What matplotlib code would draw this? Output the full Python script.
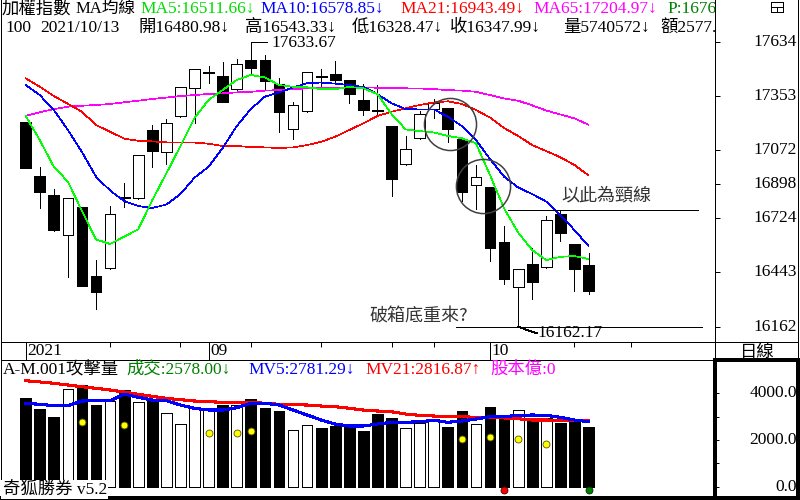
import matplotlib
matplotlib.use("Agg")
import matplotlib.pyplot as plt
import matplotlib.transforms as mtrans
from matplotlib.lines import Line2D
from matplotlib.patches import Rectangle
import numpy as np

# ---------------- data ----------------
opens = [17219, 16940, 16842, 16634, 16780, 16424, 16464, 16830, 16825, 17178,
         17066, 17248, 17393, 17471, 17456, 17388, 17539, 17539, 17414, 17181,
         17274, 17458, 17467, 17436, 17333, 17281, 17198, 17000, 17135, 17284,
         17291, 17131, 16892, 16883, 16599, 16365, 16484, 16469, 16744, 16589,
         16480.98]
highs = [17221, 16987, 16873, 16825, 16782, 16506, 16787, 16904, 17049, 17203,
         17234, 17400, 17493, 17508, 17527, 17543, 17633.67, 17565, 17448, 17324,
         17478, 17491, 17534, 17438, 17414, 17410, 17200, 17147, 17276, 17336,
         17293, 17133, 16997, 16885, 16682, 16460, 16567, 16734, 16765, 16591,
         16543.33]
lows = [16981, 16776, 16658, 16420, 16372, 16252, 16462, 16782, 16823, 16988,
        17004, 17246, 17212, 17422, 17322, 17386, 17465, 17388, 17169, 17130,
        17272, 17388, 17427, 17319, 17255, 17255, 16838, 16998, 17133, 17241,
        17117, 16811, 16771, 16503, 16381, 16162.17, 16303, 16467, 16606, 16348,
        16328.47]
closes = [16983, 16859, 16661, 16825, 16374, 16343, 16744, 16826, 17047, 17071,
          17214, 17398, 17491, 17475, 17324, 17517, 17499, 17432, 17272, 17305,
          17476, 17454, 17437, 17362, 17281, 17277, 16926, 17079, 17259, 17317,
          17185, 16859, 16935, 16570, 16410, 16458, 16394, 16711, 16644, 16462,
          16347.99]
ma5 = [17250, 17126, 16988, 16911, 16759, 16613, 16589, 16627, 16665, 16816,
       16954, 17095, 17240, 17333, 17384, 17436, 17462, 17449, 17410, 17401,
       17398, 17389, 17389, 17400, 17393, 17363, 17260, 17181, 17172, 17165,
       17147, 17135, 17109, 16945, 16773, 16648, 16558, 16506, 16523, 16527,
       16511.66]
ma10 = [17410, 17358, 17281, 17178, 17064, 16937, 16865, 16811, 16785, 16775,
        16793, 16847, 16932, 16988, 17085, 17198, 17286, 17350, 17371, 17397,
        17419, 17423, 17417, 17410, 17400, 17363, 17316, 17286, 17284, 17284,
        17247, 17198, 17126, 17028, 16937, 16881, 16847, 16808, 16739, 16661,
        16578.85]
ma21 = [17445, 17401, 17353, 17313, 17272, 17203, 17169, 17133, 17122, 17119,
        17114, 17114, 17113, 17107, 17095, 17095, 17090, 17088, 17085, 17088,
        17100, 17117, 17143, 17178, 17212, 17250, 17272, 17290, 17307, 17320,
        17326, 17312, 17281, 17242, 17188, 17147, 17100, 17069, 17037, 16997,
        16943.49]
ma65 = [17251, 17269, 17286, 17298, 17303, 17307, 17312, 17321, 17329, 17338,
        17345, 17353, 17358, 17364, 17367, 17372, 17375, 17381, 17384, 17388,
        17393, 17396, 17396, 17398, 17398, 17396, 17393, 17393, 17392, 17389,
        17384, 17381, 17375, 17358, 17341, 17329, 17305, 17278, 17258, 17238,
        17204.97]
volume = [3812, 3340, 2985, 4171, 4355, 3499, 3670, 4141, 3640, 3756,
          3143, 2672, 3358, 3358, 3499, 3499, 3756, 3370, 3242, 2428,
          2630, 2514, 2600, 2600, 2398, 3113, 2942, 2501, 2715, 2887,
          2544, 3242, 2672, 3413, 2998, 3285, 2899, 2929, 2741, 2814,
          2578]
mv5 = [3572, 3529, 3469, 3469, 3670, 3683, 3683, 3970, 3829, 3713,
       3683, 3499, 3358, 3285, 3285, 3383, 3572, 3572, 3499, 3285,
       3071, 2857, 2685, 2600, 2600, 2685, 2758, 2758, 2784, 2844,
       2758, 2814, 2899, 2998, 2998, 3058, 3071, 3058, 2972, 2857,
       2781.29]
mv21 = [4540, 4488, 4428, 4355, 4283, 4214, 4141, 4056, 3957, 3872,
        3786, 3726, 3670, 3640, 3615, 3615, 3615, 3572, 3529, 3512,
        3499, 3456, 3426, 3358, 3285, 3242, 3212, 3113, 3058, 3028,
        2998, 2998, 2972, 2950, 2945, 2912, 2857, 2857, 2827, 2827,
        2816.87]
signal_idx = [4, 7, 13, 15, 16, 31, 33, 35, 37]
signal_vol = [2784, 2642, 2313, 2313, 2399, 2056, 2141, 2056, 1842]
red_mark_idx, green_mark_idx, mark_level = [34], [40], -141

price_ticks = [16162, 16443, 16724, 16898, 17072, 17353, 17634]
price_tick_labels = ["16162", "16443", "16724", "16898", "17072", "17353", "17634"]
vol_ticks = [0, 2000, 4000]
vol_minor_ticks = [1000, 3000]
vol_tick_labels = ["0.0", "2000.0", "4000.0"]
month_tick_idx = [0, 13, 33]
month_tick_labels = ["2021", "09", "10"]
week_tick_idx = [6, 11, 16, 21, 26, 29, 39, 43]
period_high = 17633.67
period_low = 16162.17
neckline = 16766

# ---------------- layout helpers ----------------
W, H = 800, 500
plt.rcParams['lines.antialiased'] = False
plt.rcParams['patch.antialiased'] = False
fig = plt.figure(figsize=(8, 5), dpi=100)
fig.patch.set_facecolor('white')


def fx(xp):
    return xp / W


def fy(yp):
    return 1 - yp / H


FAM = ['Liberation Serif', 'Noto Sans CJK TC', 'DejaVu Sans']
CJK = ['Noto Sans CJK TC', 'DejaVu Sans']
FS = 12.5
PX = 0.72
MLW = 0.5

ax = fig.add_axes([fx(1), fy(342), 714 / W, 342 / H])
axv = fig.add_axes([fx(1), fy(498), 714 / W, 138 / H])

n = len(closes)
x = np.arange(n)
XMIN, XMAX = -1.755, 48.99
up = [c >= o for o, c in zip(opens, closes)]
fills = ['white' if u else 'black' for u in up]

# ---------------- price panel ----------------
ax.vlines(x, lows, highs, colors='black', lw=PX, zorder=2, antialiaseds=False)
bottoms = [min(o, c) for o, c in zip(opens, closes)]
heights = [max(abs(c - o), 3) for o, c in zip(opens, closes)]
ax.bar(x, heights, bottom=bottoms, width=0.76, color=fills, edgecolor='black',
       linewidth=PX, zorder=3)

ax.plot(x, ma65, color='#FF00FF', lw=MLW, zorder=4, antialiased=False)
ax.plot(x, ma21, color='#FF0000', lw=MLW, zorder=4, antialiased=False)
ax.plot(x, ma10, color='#0000FF', lw=MLW, zorder=4, antialiased=False)
ax.plot(x, ma5, color='#00FF00', lw=MLW, zorder=4, antialiased=False)

# annotations
ax.plot([30.13], [17209], marker='o', ms=37.5, mfc='none', mec='#404040',
        mew=1.1, ls='none', zorder=6, antialiased=True)
ax.plot([32.5], [16890], marker='o', ms=39.0, mfc='none', mec='#404040',
        mew=1.1, ls='none', zorder=6, antialiased=True)
ax.hlines(neckline, 34.3, 47.8, color='black', lw=PX, zorder=5)
ax.hlines(period_low, 30.6, 48.1, color='black', lw=PX, zorder=5)
ax.text(38.1, 16842, "以此為頸線", family=CJK, fontsize=13, color='#333333',
        ha='left', va='center', zorder=7)
ax.text(24.42, 16217, "破箱底重來?", family=CJK, fontsize=13, color='#333333',
        ha='left', va='center', zorder=7)

hi_i = int(np.argmax(highs))
lo_i = int(np.argmin(lows))
ax.plot([hi_i, hi_i + 1.15], [period_high, period_high], color='black', lw=PX, zorder=5)
ax.text(hi_i + 1.5, period_high - 8, f"{period_high:.2f}", family=FAM, fontsize=FS,
        ha='left', va='center', zorder=7)
ax.plot([lo_i, lo_i + 1.3], [period_low, 16128], color='black', lw=PX, zorder=5)
ax.text(lo_i + 1.35, 16130, f"{period_low:.2f}", family=FAM, fontsize=FS,
        ha='left', va='center', zorder=7)

ax.set_xlim(XMIN, XMAX)
ax.set_ylim(16083.2, 17849.0)
ax.spines['top'].set_visible(False)
for s in ['left', 'right', 'bottom']:
    ax.spines[s].set_linewidth(PX)
ax.yaxis.tick_right()
ax.set_yticks(price_ticks)
ax.tick_params(axis='y', which='both', direction='out', length=3.5, width=PX,
               labelright=False, labelleft=False)
ax.set_xticks(month_tick_idx)
ax.set_xticks(week_tick_idx, minor=True)
ax.tick_params(axis='x', which='major', direction='out', length=13, width=PX,
               labelbottom=False)
ax.tick_params(axis='x', which='minor', direction='out', length=3.6, width=PX,
               labelbottom=False)

tr_y = mtrans.blended_transform_factory(fig.transFigure, ax.transData)
for v, lab in zip(price_ticks, price_tick_labels):
    ax.text(797 / W, v, lab, transform=tr_y, ha='right', va='center',
            family=FAM, fontsize=FS, clip_on=False)
tr_x = mtrans.blended_transform_factory(ax.transData, fig.transFigure)
for i, lab in zip(month_tick_idx, month_tick_labels):
    ax.text(i + 0.12, fy(351), lab, transform=tr_x, ha='left', va='center',
            family=FAM, fontsize=FS, clip_on=False)


def seg(xp, yp, s, color, clip_ax=None, family=FAM, size=FS):
    t = fig.text(fx(xp), fy(yp), s, color=color, family=family, fontsize=size,
                 ha='left', va='center')
    if clip_ax is not None:
        t.set_clip_box(clip_ax.bbox)
        t.set_clip_on(True)
    return t


# title line 1
seg(2, 9, "加權指數", 'black', ax)
seg(76, 9, "MA均線", 'black', ax, size=12)
seg(140, 9, "MA5:16511.66↓", '#00DD00', ax)
seg(260, 9, "MA10:16578.85↓", '#0000FF', ax)
seg(400, 9, "MA21:16943.49↓", '#FF0000', ax)
seg(533, 9, "MA65:17204.97↓", '#FF00FF', ax)
seg(667, 9, "P:16760", '#008000', ax)
# title line 2
seg(5, 28, "100", 'black', ax)
seg(40, 28, "2021/10/13", 'black', ax)
seg(138, 28, "開16480.98↓", 'black', ax)
seg(245, 28, "高16543.33↓", 'black', ax)
seg(352, 28, "低16328.47↓", 'black', ax)
seg(450, 28, "收16347.99↓", 'black', ax)
seg(563, 28, "量5740572↓", 'black', ax)
seg(660, 28, "額2577.92", 'black', ax)

# ---------------- volume panel ----------------
axv.bar(x, volume, width=0.76, color=fills, edgecolor='black', linewidth=PX, zorder=2)
axv.plot(x, mv21, color='#FF0000', lw=1.5, zorder=3)
axv.plot(x, mv5, color='#0000FF', lw=1.5, zorder=3)
axv.plot(signal_idx, signal_vol, 'o', ms=5, mfc='#FFFF00', mec='#555500', mew=0.6,
         ls='none', zorder=4, antialiased=True)
axv.plot(red_mark_idx, [mark_level] * len(red_mark_idx), 'o', ms=5, mfc='#FF0000',
         mec='#500000', mew=0.6, ls='none', zorder=4, antialiased=True, clip_on=False)
axv.plot(green_mark_idx, [mark_level] * len(green_mark_idx), 'o', ms=5, mfc='#008000',
         mec='#003000', mew=0.6, ls='none', zorder=4, antialiased=True, clip_on=False)

axv.set_xlim(XMIN, XMAX)
axv.set_ylim(-484, 5427)
axv.set_xticks([])
axv.yaxis.tick_right()
axv.set_yticks(vol_ticks)
axv.set_yticks(vol_minor_ticks, minor=True)
axv.tick_params(axis='y', which='both', direction='out', length=3, width=PX,
                labelright=False, labelleft=False)
axv.spines['top'].set_linewidth(PX)
axv.spines['left'].set_linewidth(PX)
axv.spines['right'].set_linewidth(1.5)
axv.spines['bottom'].set_linewidth(1.5)

tr_vy = mtrans.blended_transform_factory(fig.transFigure, axv.transData)
for v, lab in zip(vol_ticks, vol_tick_labels):
    axv.text(797 / W, v, lab, transform=tr_vy, ha='right', va='center',
             family=FAM, fontsize=FS, clip_on=False)

seg(2.7, 369.5, "A-M.001攻擊量", 'black')
seg(126.7, 369.5, "成交:2578.00↓", '#008000')
seg(248, 369.5, "MV5:2781.29↓", '#0000FF')
seg(365, 369.5, "MV21:2816.87↑", '#FF0000')
seg(490, 369.5, "股本億:0", '#FF00FF')
t = seg(2.7, 489.5, "奇狐勝券 v5.2", 'black')
t.set_bbox(dict(facecolor='white', edgecolor='none', pad=1.0))
t.set_zorder(10)

# ---------------- frame decorations ----------------
fig.text(fx(757.8), fy(351.5), "日線", ha='center', va='center', family=CJK, fontsize=12.5)
fig.add_artist(Rectangle((fx(715), fy(498)), (798 - 715) / W, 138 / H,
                         transform=fig.transFigure, fill=False, lw=1.6, ec='black'))
for xs, ys in [([715, 798], [342, 342]), ([798, 798], [0, 360]),
               ([715, 715], [342, 360]), ([1, 1], [342, 360])]:
    fig.add_artist(Line2D([fx(v) for v in xs], [fy(v) for v in ys], lw=PX,
                          color='black', transform=fig.transFigure))
# small window icon
fig.add_artist(Rectangle((fx(771), fy(11.5)), 12 / W, 9.5 / H, transform=fig.transFigure,
                         fill=False, lw=PX, ec='black'))
fig.add_artist(Line2D([fx(771), fx(783)], [fy(6.5), fy(6.5)], lw=PX, color='black',
                      transform=fig.transFigure))
fig.add_artist(Line2D([fx(777), fx(777)], [fy(6.5), fy(11.5)], lw=PX, color='black',
                      transform=fig.transFigure))

fig.savefig("out.png", dpi=100, facecolor='white')
